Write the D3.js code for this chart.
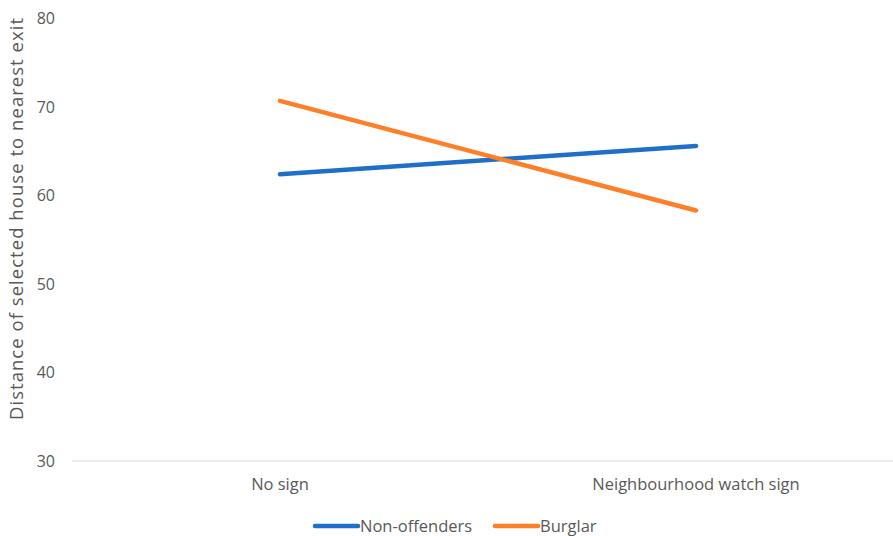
<!DOCTYPE html>
<html>
<head>
<meta charset="utf-8">
<script src="https://cdn.jsdelivr.net/npm/d3@7"></script>
<style>
  body { margin: 0; background: #fff; }
  text { font-family: "Open Sans", "Noto Sans", sans-serif; fill: #595959; }
</style>
</head>
<body>
<div id="chart"></div>
<script>
// chart data
var categories = ["No sign", "Neighbourhood watch sign"];
var nonOffenders = [62.4, 65.6];
var burglar = [70.7, 58.3];
var yTicks = [30, 40, 50, 60, 70, 80];

var seriesList = [
    { name: "Non-offenders", values: nonOffenders, color: "#1f6fc8" },
    { name: "Burglar", values: burglar, color: "#fd7f27" }
];

var W = 893, H = 536;

var svg = d3.select("#chart").append("svg")
    .attr("width", W)
    .attr("height", H);

// scales
var x = d3.scalePoint()
    .domain(categories)
    .range([280, 696]);

var y = d3.scaleLinear()
    .domain([30, 80])
    .range([461, 18.5]);

// y tick labels (no gridlines in the original)
svg.append("g")
    .selectAll("text")
    .data(yTicks)
    .enter()
    .append("text")
    .attr("x", 55)
    .attr("y", function(d) { return y(d); })
    .attr("dy", "0.35em")
    .attr("text-anchor", "end")
    .attr("font-size", "16px")
    .text(function(d) { return d; });

// x axis line
svg.append("line")
    .attr("x1", 72)
    .attr("x2", W)
    .attr("y1", y(30))
    .attr("y2", y(30))
    .attr("stroke", "#d9d9d9")
    .attr("stroke-width", 1);

// x labels
svg.append("g")
    .selectAll("text")
    .data(categories)
    .enter()
    .append("text")
    .attr("x", function(d) { return x(d); })
    .attr("y", 490)
    .attr("text-anchor", "middle")
    .attr("font-size", "16.5px")
    .text(function(d) { return d; });

// y axis title
svg.append("text")
    .attr("transform", "translate(23,219) rotate(-90)")
    .attr("text-anchor", "middle")
    .attr("font-size", "18.5px")
    .attr("textLength", 402)
    .attr("lengthAdjust", "spacing")
    .text("Distance of selected house to nearest exit");

// lines
var line = d3.line()
    .x(function(d, i) { return x(categories[i]); })
    .y(function(d) { return y(d); });

svg.append("g")
    .selectAll("path")
    .data(seriesList)
    .enter()
    .append("path")
    .attr("d", function(s) { return line(s.values); })
    .attr("fill", "none")
    .attr("stroke", function(s) { return s.color; })
    .attr("stroke-width", 4.5)
    .attr("stroke-linecap", "round");

// legend
var legendX = [315, 495];
var legend = svg.append("g")
    .selectAll("g")
    .data(seriesList)
    .enter()
    .append("g")
    .attr("transform", function(d, i) { return "translate(" + legendX[i] + ",526)"; });

legend.append("line")
    .attr("x1", 0)
    .attr("x2", 43)
    .attr("stroke", function(d) { return d.color; })
    .attr("stroke-width", 4.5)
    .attr("stroke-linecap", "round");

legend.append("text")
    .attr("x", 45)
    .attr("dy", "0.35em")
    .attr("font-size", "16.5px")
    .text(function(d) { return d.name; });
</script>
</body>
</html>
